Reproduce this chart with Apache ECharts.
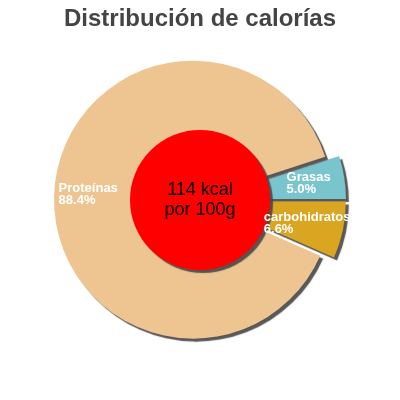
<!DOCTYPE html>
<html>
<head>
<meta charset="utf-8">
<script src="https://cdn.jsdelivr.net/npm/echarts@6/dist/echarts.min.js"></script>
<style>
  html, body { margin: 0; padding: 0; background: #fff; }
  #main { width: 400px; height: 400px; }
</style>
</head>
<body>
<div id="main"></div>
<script>
// datos
var categories = ['Grasas', 'carbohidratos', 'Proteínas'];
var percents = [5.0, 6.6, 88.4];
var sliceColors = ['#7AC5CD', '#DAA520', '#EEC591'];
// desplazamiento de cada etiqueta [x, y]
var labelOffsets = [[53, -4], [31, 7], [-17, -2]];
var kcal = 114;
var centerLines = [kcal + ' kcal', 'por 100g'];

var chart = echarts.init(document.getElementById('main'));

var pieData = [];
for (var i = 0; i < categories.length; i++) {
  pieData.push({
    name: categories[i],
    value: percents[i],
    selected: true,
    itemStyle: { color: sliceColors[i] }
  });
}

var option = {
  animation: false,
  title: {
    text: 'Distribución de calorías',
    left: 'center',
    top: 2,
    textStyle: {
      fontFamily: 'Liberation Sans',
      fontSize: 24,
      fontWeight: 'bold',
      color: '#444'
    }
  },
  series: [{
    type: 'pie',
    center: [200, 200],
    radius: [0, 139],
    startAngle: 18,
    clockwise: true,
    selectedMode: 'multiple',
    selectedOffset: 7,
    avoidLabelOverlap: false,
    silent: true,
    emphasis: { disabled: true },
    itemStyle: {
      shadowColor: 'rgba(70,70,70,0.9)',
      shadowBlur: 1,
      shadowOffsetX: 3,
      shadowOffsetY: 3
    },
    label: {
      position: 'inside',
      formatter: function (p) {
        return '{a|' + p.name + '}\n{a|' + p.value.toFixed(1) + '%}';
      },
      rich: {
        a: {
          width: 90,
          align: 'left',
          fontFamily: 'Liberation Sans',
          fontSize: 13,
          fontWeight: 'bold',
          color: '#fff',
          lineHeight: 12
        }
      }
    },
    labelLayout: function (p) {
      var o = labelOffsets[p.dataIndex];
      return { dx: o[0], dy: o[1] };
    },
    labelLine: { show: false },
    data: pieData
  }, {
    type: 'pie',
    center: [200, 200],
    radius: [0, 70],
    silent: true,
    emphasis: { disabled: true },
    itemStyle: {
      color: '#FF0000',
      shadowColor: 'rgba(70,70,70,0.9)',
      shadowBlur: 1,
      shadowOffsetX: 3,
      shadowOffsetY: 3
    },
    label: {
      position: 'center',
      formatter: centerLines.join('\n'),
      fontFamily: 'Liberation Sans',
      fontSize: 18,
      lineHeight: 20,
      color: '#000'
    },
    labelLine: { show: false },
    data: [{ name: 'kcal', value: kcal }]
  }]
};

chart.setOption(option);
</script>
</body>
</html>
